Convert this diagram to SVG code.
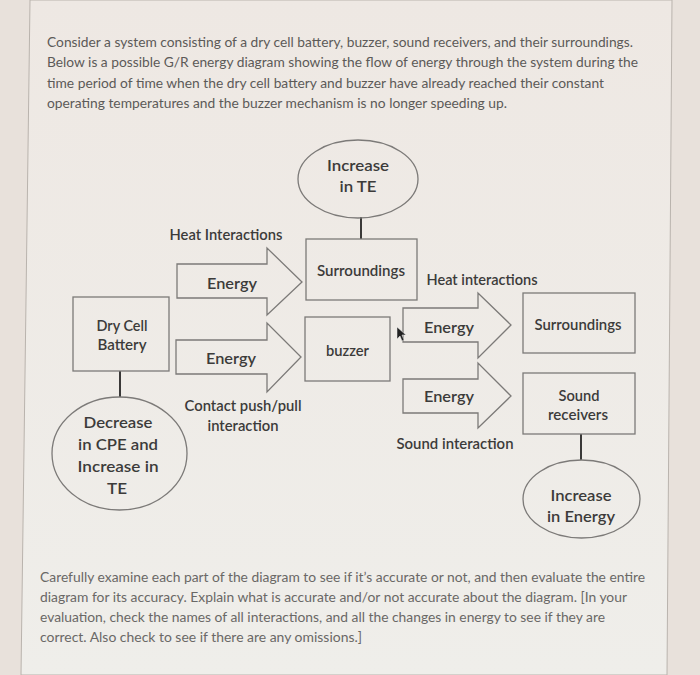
<svg xmlns="http://www.w3.org/2000/svg" width="700" height="675" viewBox="0 0 700 675">
<defs>
<linearGradient id="bg" x1="0" y1="0" x2="0" y2="1">
<stop offset="0" stop-color="#eee8e3"/>
<stop offset="1" stop-color="#efeeea"/>
</linearGradient>
<style>
.para{font-family:Lato,"Liberation Sans",sans-serif;font-size:13.5px;fill:#5c5a58}
.para2{font-family:Lato,"Liberation Sans",sans-serif;font-size:13.5px;fill:#6a6866}
.lbl{font-family:Lato,"Open Sans","Liberation Sans",sans-serif;font-size:15px;font-weight:600;fill:#3c3b3a;text-anchor:middle}
.big{font-size:16px}
.shape{fill:none;stroke:#7c7a78;stroke-width:1.3}
.conn{stroke:#3a3938;stroke-width:2;fill:none}
</style>
</defs>
<rect x="0" y="0" width="700" height="675" fill="#e8e1db"/>
<polygon points="30,0 672,0 667,675 21,675" fill="url(#bg)" stroke="#b9b3ad" stroke-width="1"/>

<g id="intro">
<text class="para" x="47" y="47" textLength="586" lengthAdjust="spacingAndGlyphs">Consider a system consisting of a dry cell battery, buzzer, sound receivers, and their surroundings.</text>
<text class="para" x="47" y="67" textLength="591" lengthAdjust="spacingAndGlyphs">Below is a possible G/R energy diagram showing the flow of energy through the system during the</text>
<text class="para" x="47" y="88" textLength="557" lengthAdjust="spacingAndGlyphs">time period of time when the dry cell battery and buzzer have already reached their constant</text>
<text class="para" x="47" y="108" textLength="460" lengthAdjust="spacingAndGlyphs">operating temperatures and the buzzer mechanism is no longer speeding up.</text>
</g>

<g id="connectors">
<line class="conn" x1="361" y1="217" x2="361" y2="239"/>
<line class="conn" x1="120" y1="371" x2="120" y2="397"/>
<line class="conn" x1="581" y1="434" x2="581" y2="460"/>
</g>

<g id="te-increase-top">
<ellipse class="shape" cx="358" cy="179" rx="60" ry="39"/>
<text class="lbl" x="358" y="171" textLength="62" lengthAdjust="spacingAndGlyphs">Increase</text>
<text class="lbl" x="358" y="192" textLength="37" lengthAdjust="spacingAndGlyphs">in TE</text>
</g>

<g id="surroundings-top">
<rect class="shape" x="306" y="239" width="111" height="61"/>
<text class="lbl" x="361" y="276" textLength="88" lengthAdjust="spacingAndGlyphs">Surroundings</text>
</g>

<g id="heat-label-left">
<text class="lbl" x="226" y="240" textLength="113" lengthAdjust="spacingAndGlyphs">Heat Interactions</text>
</g>

<g id="arrow-energy-1">
<polygon class="shape" points="177,264 267,264 267,248 302,282 267,315 267,298 177,298"/>
<text class="lbl big" x="232" y="289" textLength="50" lengthAdjust="spacingAndGlyphs">Energy</text>
</g>

<g id="arrow-energy-2">
<polygon class="shape" points="176,340 267,340 267,323 301,357 267,392 267,374 176,374"/>
<text class="lbl big" x="231" y="364" textLength="50" lengthAdjust="spacingAndGlyphs">Energy</text>
</g>

<g id="dry-cell-battery">
<rect class="shape" x="73" y="297" width="96" height="74"/>
<text class="lbl" x="122" y="331" textLength="51" lengthAdjust="spacingAndGlyphs">Dry Cell</text>
<text class="lbl" x="122" y="350" textLength="49" lengthAdjust="spacingAndGlyphs">Battery</text>
</g>

<g id="battery-change">
<ellipse class="shape" cx="119.5" cy="453.5" rx="67.5" ry="56.5"/>
<text class="lbl big" x="118" y="428" textLength="69" lengthAdjust="spacingAndGlyphs">Decrease</text>
<text class="lbl big" x="118" y="450" textLength="80" lengthAdjust="spacingAndGlyphs">in CPE and</text>
<text class="lbl big" x="118" y="472" textLength="81" lengthAdjust="spacingAndGlyphs">Increase in</text>
<text class="lbl big" x="117" y="494" textLength="20" lengthAdjust="spacingAndGlyphs">TE</text>
</g>

<g id="contact-label">
<text class="lbl" x="243" y="411" textLength="117" lengthAdjust="spacingAndGlyphs">Contact push/pull</text>
<text class="lbl" x="243" y="431" textLength="71" lengthAdjust="spacingAndGlyphs">interaction</text>
</g>

<g id="buzzer">
<rect class="shape" x="305" y="317" width="85" height="64"/>
<text class="lbl" x="347.5" y="356" textLength="43" lengthAdjust="spacingAndGlyphs">buzzer</text>
</g>

<g id="heat-label-right">
<text class="lbl" x="482" y="285" textLength="111" lengthAdjust="spacingAndGlyphs">Heat interactions</text>
</g>

<g id="arrow-energy-3">
<polygon class="shape" points="403,308 478,308 478,293 511,325 478,358 478,342 403,342"/>
<text class="lbl big" x="449" y="333" textLength="50" lengthAdjust="spacingAndGlyphs">Energy</text>
</g>

<g id="arrow-energy-4">
<polygon class="shape" points="403,379 478,379 478,363 511,396 478,428 478,413 403,413"/>
<text class="lbl big" x="449" y="402" textLength="50" lengthAdjust="spacingAndGlyphs">Energy</text>
</g>

<g id="surroundings-right">
<rect class="shape" x="523" y="293" width="112" height="60"/>
<text class="lbl" x="578" y="330" textLength="87" lengthAdjust="spacingAndGlyphs">Surroundings</text>
</g>

<g id="sound-receivers">
<rect class="shape" x="523" y="373" width="112" height="61"/>
<text class="lbl" x="579" y="401" textLength="41" lengthAdjust="spacingAndGlyphs">Sound</text>
<text class="lbl" x="578" y="420" textLength="60" lengthAdjust="spacingAndGlyphs">receivers</text>
</g>

<g id="sound-label">
<text class="lbl" x="455" y="449" textLength="117" lengthAdjust="spacingAndGlyphs">Sound interaction</text>
</g>

<g id="energy-increase">
<ellipse class="shape" cx="581.5" cy="499" rx="58.5" ry="39"/>
<text class="lbl" x="581" y="501" textLength="61" lengthAdjust="spacingAndGlyphs">Increase</text>
<text class="lbl" x="581" y="522" textLength="68" lengthAdjust="spacingAndGlyphs">in Energy</text>
</g>

<polygon points="397,327 397,339 400,336 402,341 404,340 402,335 406,335" fill="#222" stroke="#eee" stroke-width="0.5"/>

<g id="question">
<text class="para2" x="40" y="582" textLength="605" lengthAdjust="spacingAndGlyphs">Carefully examine each part of the diagram to see if it’s accurate or not, and then evaluate the entire</text>
<text class="para2" x="40" y="602" textLength="587" lengthAdjust="spacingAndGlyphs">diagram for its accuracy. Explain what is accurate and/or not accurate about the diagram. [In your</text>
<text class="para2" x="40" y="622" textLength="565" lengthAdjust="spacingAndGlyphs">evaluation, check the names of all interactions, and all the changes in energy to see if they are</text>
<text class="para2" x="40" y="642" textLength="322" lengthAdjust="spacingAndGlyphs">correct. Also check to see if there are any omissions.]</text>
</g>
</svg>
